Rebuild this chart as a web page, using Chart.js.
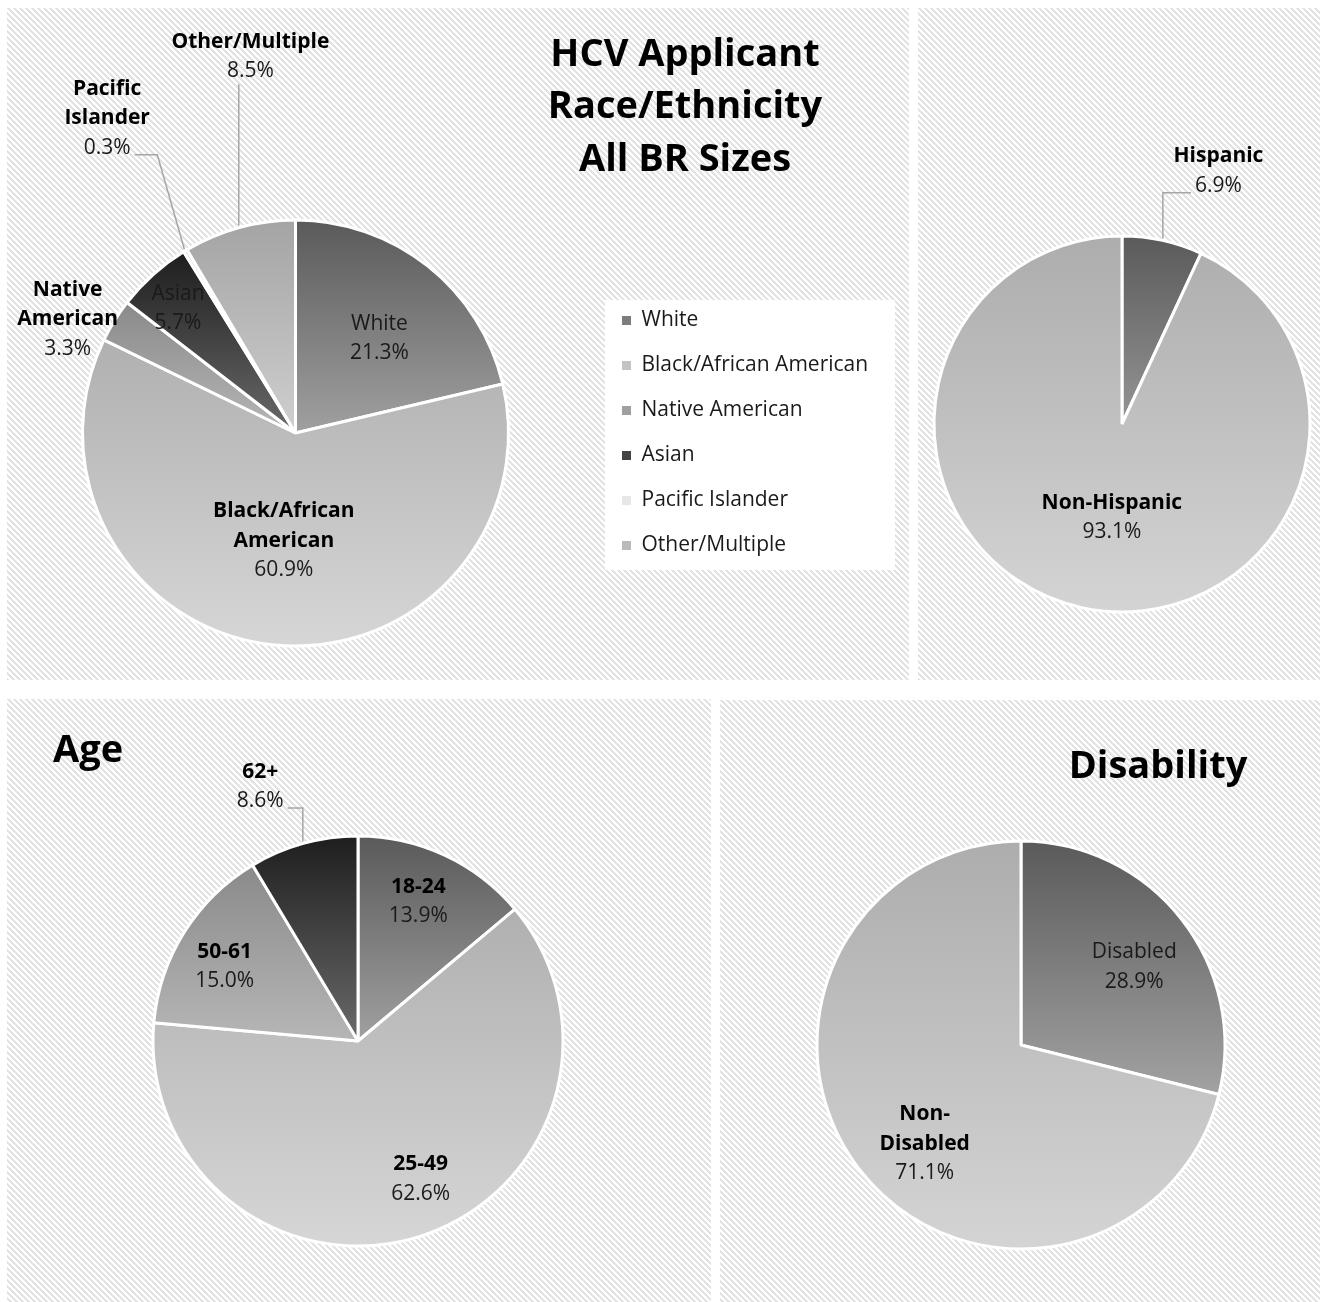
<!DOCTYPE html>
<html>
<head>
<meta charset="utf-8">
<script src="https://cdn.jsdelivr.net/npm/chart.js@4"></script>
<style>
  html, body { margin: 0; padding: 0; background: #fff; overflow: hidden; }
  body { width: 1320px; height: 1302px; position: relative; }
  .panel { position: absolute; }
  canvas { position: absolute; }
</style>
</head>
<body>
<div class="panel" style="left:7px;top:8px;width:902px;height:672px"></div>
<div class="panel" style="left:918px;top:8px;width:402px;height:672px"></div>
<div class="panel" style="left:7px;top:699px;width:704px;height:603px"></div>
<div class="panel" style="left:720px;top:700px;width:600px;height:602px"></div>
<canvas id="race" width="916" height="672" style="left:-7px;top:8px"></canvas>
<canvas id="eth" width="402" height="672" style="left:918px;top:8px"></canvas>
<canvas id="age" width="704" height="603" style="left:7px;top:699px"></canvas>
<canvas id="dis" width="600" height="602" style="left:720px;top:700px"></canvas>
<script>
const FONT = '"Open Sans", "Noto Sans", sans-serif';
const SIZE = 21;
Chart.defaults.font.family = FONT;

// data
const raceLabels = ['White', 'Black/African American', 'Native American', 'Asian', 'Pacific Islander', 'Other/Multiple'];
const raceValues = [21.3, 60.9, 3.3, 5.7, 0.3, 8.5];
const raceText = [['White'], ['Black/African', 'American'], ['Native', 'American'], ['Asian'], ['Pacific', 'Islander'], ['Other/Multiple']];

const ethLabels = ['Hispanic', 'Non-Hispanic'];
const ethValues = [6.9, 93.1];
const ethText = [['Hispanic'], ['Non-Hispanic']];

const ageLabels = ['18-24', '25-49', '50-61', '62+'];
const ageValues = [13.9, 62.6, 15.0, 8.6];
const ageText = [['18-24'], ['25-49'], ['50-61'], ['62+']];

const disLabels = ['Disabled', 'Non-Disabled'];
const disValues = [28.9, 71.1];
const disText = [['Disabled'], ['Non-', 'Disabled']];

// grey shades, top -> bottom of each slice
const DARK = ['#5a5a5a', '#a0a0a0'];
const LIGHT = ['#b0b0b0', '#d6d6d6'];
const MID = ['#8a8a8a', '#b6b6b6'];
const BLACK = ['#1e1e1e', '#6a6a6a'];
const PALE = ['#dcdcdc', '#f2f2f2'];
const OTHER = ['#a4a4a4', '#cfcfcf'];

// hatch background for the panels
const tile = document.createElement('canvas');
tile.width = tile.height = 6;
const tctx = tile.getContext('2d');
tctx.fillStyle = '#fff';
tctx.fillRect(0, 0, 6, 6);
tctx.fillStyle = '#e3e3e3';
for (let y = 0; y < 6; y++) {
  for (let x = 0; x < 6; x++) {
    if ((((x - y) % 6) + 6) % 6 < 3) tctx.fillRect(x, y, 1, 1);
  }
}
document.querySelectorAll('.panel').forEach(p => p.style.backgroundImage = 'url(' + tile.toDataURL() + ')');

function mix(a, b) {
  const h = s => [1, 3, 5].map(k => parseInt(s.substr(k, 2), 16));
  const A = h(a), B = h(b);
  return 'rgb(' + A.map((v, k) => Math.round((v + B[k]) / 2)).join(',') + ')';
}

function arcYRange(a) {
  const r = a.outerRadius;
  const ys = [a.y, a.y + r * Math.sin(a.startAngle), a.y + r * Math.sin(a.endAngle)];
  for (let k = -2; k <= 2; k++) {
    [-Math.PI / 2, Math.PI / 2].forEach(t => {
      const ang = t + 2 * Math.PI * k;
      if (ang > a.startAngle && ang < a.endAngle) ys.push(a.y + r * Math.sin(ang));
    });
  }
  return [Math.min(...ys), Math.max(...ys)];
}

const piePanel = {
  id: 'piePanel',
  beforeDraw(chart, args, o) {
    if (!o.legendBox) return;
    const ctx = chart.ctx, l = chart.legend, ca = chart.chartArea;
    const cy = (ca.top + ca.bottom) / 2;
    ctx.save();
    ctx.fillStyle = '#fff';
    ctx.fillRect(l.left + o.legendBox[0], cy + o.legendBox[1], o.legendBox[2], o.legendBox[3]);
    ctx.restore();
  },
  beforeDatasetsDraw(chart, args, o) {
    const ctx = chart.ctx;
    chart.getDatasetMeta(0).data.forEach((arc, i) => {
      const [y0, y1] = arcYRange(arc);
      const g = ctx.createLinearGradient(0, y0, 0, y1);
      g.addColorStop(0, o.shades[i][0]);
      g.addColorStop(1, o.shades[i][1]);
      arc.options.backgroundColor = g;
    });
  },
  afterDatasetsDraw(chart, args, o) {
    const ctx = chart.ctx;
    const values = chart.data.datasets[0].data;
    const lh = 29.5;
    ctx.save();
    ctx.textAlign = 'center';
    ctx.textBaseline = 'middle';
    chart.getDatasetMeta(0).data.forEach((arc, i) => {
      const mid = (arc.startAngle + arc.endAngle) / 2;
      const spot = o.spots[i];
      const ang = mid + spot.turn * Math.PI / 180;
      const bx = arc.x + Math.cos(ang) * spot.dist * arc.outerRadius;
      const by = arc.y + Math.sin(ang) * spot.dist * arc.outerRadius + 2;
      const lines = o.text[i];
      const pct = values[i].toFixed(1) + '%';
      const n = lines.length + 1;
      const top = by - (n - 1) * lh / 2;
      const pctY = top + (n - 1) * lh;
      ctx.font = SIZE + 'px ' + FONT;
      if (spot.leader !== undefined) {
        const hw = ctx.measureText(pct).width / 2;
        const px = arc.x + Math.cos(mid) * (arc.outerRadius + 2);
        const py = arc.y + Math.sin(mid) * (arc.outerRadius + 2);
        const pts = [];
        if (Math.abs(px - bx) < hw) {
          pts.push([px, pctY + 13]);
        } else {
          const sx = px > bx ? bx + hw + 4 : bx - hw - 4;
          pts.push([sx, pctY + 7], [px + spot.leader, pctY + 7]);
        }
        pts.push([px, py]);
        ctx.strokeStyle = '#a6a6a6';
        ctx.lineWidth = 1.5;
        ctx.beginPath();
        pts.forEach((p, k) => k ? ctx.lineTo(p[0], p[1]) : ctx.moveTo(p[0], p[1]));
        ctx.stroke();
      }
      lines.forEach((t, k) => {
        ctx.fillStyle = o.bold[i] ? '#000' : '#1a1a1a';
        ctx.font = (o.bold[i] ? 'bold ' : '') + SIZE + 'px ' + FONT;
        ctx.fillText(t, bx, top + k * lh);
      });
      ctx.fillStyle = '#1a1a1a';
      ctx.font = SIZE + 'px ' + FONT;
      ctx.fillText(pct, bx, pctY);
    });
    ctx.restore();
  },
  afterDraw(chart, args, o) {
    const t = o.title;
    const ctx = chart.ctx;
    ctx.save();
    ctx.fillStyle = '#000';
    ctx.font = 'bold 38px ' + FONT;
    ctx.textAlign = t.align;
    ctx.textBaseline = 'middle';
    t.lines.forEach((s, k) => ctx.fillText(s, t.x, t.y + k * 52.5));
    ctx.restore();
  }
};

function makePie(id, labels, values, text, shades, cfg) {
  return new Chart(document.getElementById(id), {
    type: 'pie',
    data: {
      labels: labels,
      datasets: [{
        data: values,
        backgroundColor: shades.map(s => mix(s[0], s[1])),
        borderColor: '#fff',
        borderWidth: 3,
        radius: cfg.radius,
        hoverOffset: 0,
        offset: 0
      }]
    },
    options: {
      responsive: false,
      animation: false,
      events: [],
      layout: { padding: cfg.padding },
      plugins: {
        tooltip: { enabled: false },
        legend: {
          display: !!cfg.legend,
          position: 'right',
          labels: {
            boxWidth: 9,
            boxHeight: 9,
            padding: 24,
            color: '#1a1a1a',
            font: { size: SIZE, family: FONT },
            generateLabels(chart) {
              return Chart.overrides.doughnut.plugins.legend.labels.generateLabels(chart)
                .map(it => Object.assign(it, { lineWidth: 0, strokeStyle: 'rgba(0,0,0,0)' }));
            }
          }
        },
        piePanel: {
          text: text,
          shades: shades,
          bold: cfg.bold,
          spots: cfg.spots,
          title: cfg.title,
          legendBox: cfg.legend ? [7, -133, 290, 270] : null
        }
      }
    },
    plugins: [piePanel]
  });
}

// legend width for the race chart, so the legend lands where the original has it
const mctx = document.createElement('canvas').getContext('2d');
mctx.font = SIZE + 'px ' + FONT;
const widest = Math.max(...raceLabels.map(t => mctx.measureText(t).width));
const raceLegendW = 24 + 9 + SIZE / 2 + widest + 10;

makePie('race', raceLabels, raceValues, raceText, [DARK, LIGHT, MID, BLACK, PALE, OTHER], {
  radius: 213,
  padding: { left: 0, top: 178, right: 311 - raceLegendW, bottom: 0 },
  legend: true,
  bold: [false, true, true, false, true, true],
  spots: [
    { dist: 0.60, turn: 2.7 },
    { dist: 0.50, turn: 0 },
    { dist: 1.20, turn: -4.9 },
    { dist: 0.81, turn: -1 },
    { dist: 1.73, turn: 0.4, leader: -27 },
    { dist: 1.79, turn: 8.5, leader: 0 }
  ],
  title: { lines: ['HCV Applicant', 'Race/Ethnicity', 'All BR Sizes'], x: 692, y: 47, align: 'center' }
});

makePie('eth', ethLabels, ethValues, ethText, [['#5a5a5a', '#959595'], ['#adadad', '#d4d4d4']], {
  radius: 188,
  padding: { left: 6, top: 160, right: 0, bottom: 0 },
  bold: [true, true],
  spots: [
    { dist: 1.45, turn: 8.3, leader: 0 },
    { dist: 0.49, turn: -6.1 }
  ],
  title: { lines: [], x: 0, y: 0, align: 'center' }
});

makePie('age', ageLabels, ageValues, ageText, [DARK, LIGHT, MID, BLACK], {
  radius: 205,
  padding: { left: 0, top: 81, right: 2, bottom: 0 },
  bold: [true, true, true, true],
  spots: [
    { dist: 0.75, turn: -1.9 },
    { dist: 0.73, turn: -7.3 },
    { dist: 0.75, turn: -2.3 },
    { dist: 1.34, turn: -5.4, leader: 0 }
  ],
  title: { lines: ['Age'], x: 46, y: 52, align: 'left' }
});

makePie('dis', disLabels, disValues, disText, [['#5a5a5a', '#a2a2a2'], ['#adadad', '#d4d4d4']], {
  radius: 204,
  padding: { left: 2, top: 88, right: 0, bottom: 0 },
  bold: [false, true],
  spots: [
    { dist: 0.68, turn: 2.7 },
    { dist: 0.67, turn: -7.2 }
  ],
  title: { lines: ['Disability'], x: 438, y: 67, align: 'center' }
});
</script>
</body>
</html>
